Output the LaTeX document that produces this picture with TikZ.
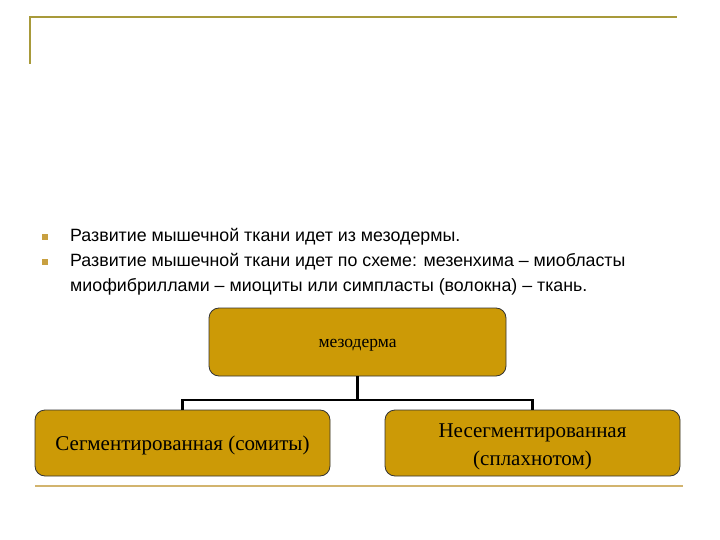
\documentclass[tikz,border=0pt]{standalone}
\usepackage{fontspec}
\setmainfont{Liberation Serif}
\newfontfamily\arialf{Liberation Sans}
\definecolor{frameol}{HTML}{A89A3A}
\definecolor{boxfill}{HTML}{CC9A06}
\definecolor{bulletc}{HTML}{C8A040}
\definecolor{baselncol}{HTML}{D2B46E}
\begin{document}
\begin{tikzpicture}[x=1pt,y=-1pt,
  gbox/.style={draw=black!80, line width=0.8pt, fill=boxfill, rounded corners=10pt, align=center, inner sep=0pt},
  conn/.style={draw=black, line width=2.2pt},
  bul/.style={fill=bulletc, draw=none, minimum size=6pt, inner sep=0pt},
  btext/.style={anchor=west, font=\arialf\fontsize{17.8}{20}\selectfont, inner sep=0pt}]
\useasboundingbox (0,0) rectangle (720,540);
% frame
\draw[frameol, line width=2pt] (30,64) -- (30,17) -- (677,17);
% bullets
\node[bul] (b1) at (45,237) {};
\node[bul] (b2) at (45,262) {};
\node[btext] (t1) at (70,237) {Развитие мышечной ткани идет из мезодермы.};
\node[btext] (t2) at (70,262) {Развитие мышечной ткани идет по схеме: мезенхима – миобласты};
\node[btext] (t3) at (70,287) {миофибриллами – миоциты или симпласты (волокна) – ткань.};
% boxes
\node[gbox, minimum width=297pt, minimum height=68pt] (top) at (357.5,342) {};
\node[font=\fontsize{17.5}{20}\selectfont, inner sep=0pt] (toptxt) at (357.5,345) {мезодерма};
\node[gbox, minimum width=295pt, minimum height=66pt] (left) at (182.5,443) {};
\node[font=\fontsize{21}{28}\selectfont, inner sep=0pt] (lefttxt) at (182.5,445) {Сегментированная (сомиты)};
\node[gbox, minimum width=295pt, minimum height=66pt] (right) at (532.5,443) {};
\node[font=\fontsize{21}{28}\selectfont, align=center, inner sep=0pt] (righttxt) at (532.5,447) {Несегментированная\\(сплахнотом)};
% connectors
\coordinate (j) at (357.5,400);
\draw[conn] (top.south) -- (j);
\draw[conn] (left.north) |- (j);
\draw[conn] (right.north) |- (j);
% base line
\draw[baselncol, line width=2.5pt] (35,486) -- (683,486);
\end{tikzpicture}
\end{document}
